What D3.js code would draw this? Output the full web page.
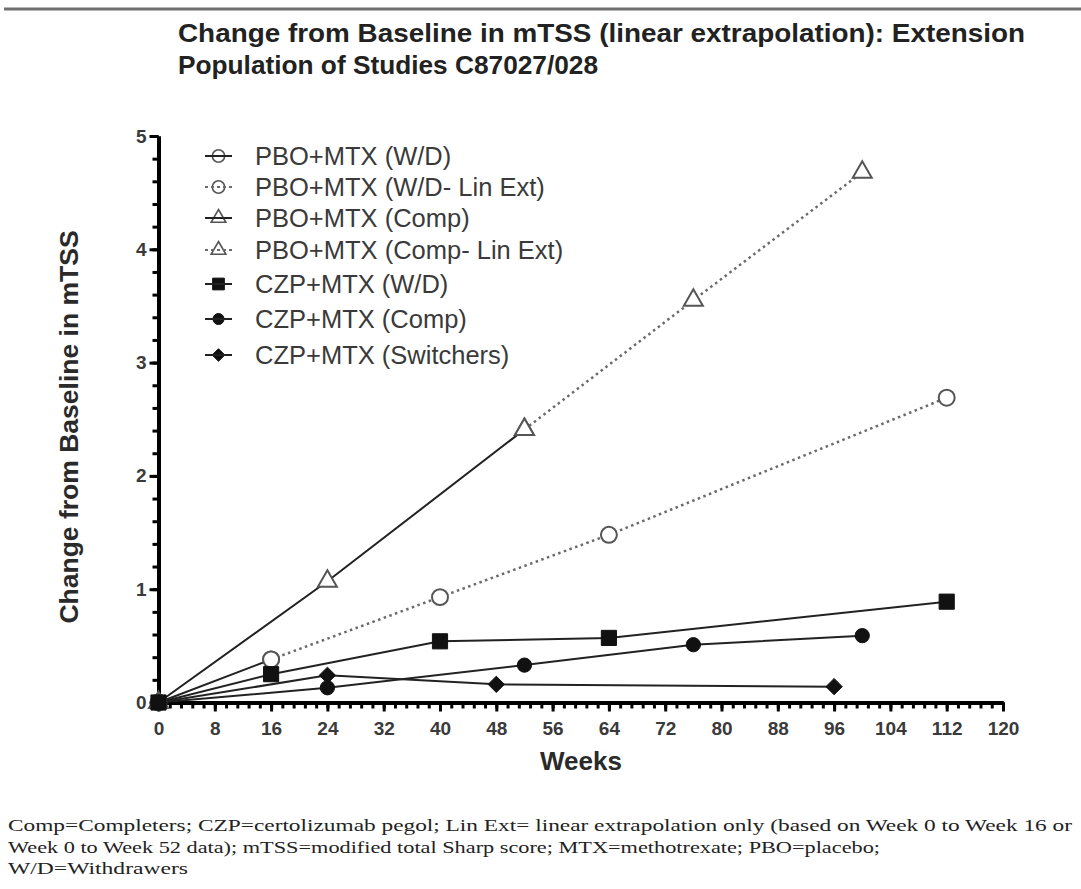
<!DOCTYPE html>
<html>
<head>
<meta charset="utf-8">
<script src="https://cdn.jsdelivr.net/npm/d3@7"></script>
<style>
    body { margin: 0; background: #fff; }
    svg { display: block; }
</style>
</head>
<body>
<div id="chart"></div>
<script>
// data
let weekTicks = [0, 8, 16, 24, 32, 40, 48, 56, 64, 72, 80, 88, 96, 104, 112, 120];
let valueTicks = [0, 1, 2, 3, 4, 5];

let pboWdWeeks = [0, 16];
let pboWdValues = [0, 0.38];
let pboWdExtWeeks = [16, 40, 64, 112];
let pboWdExtValues = [0.38, 0.93, 1.48, 2.69];
let pboCompWeeks = [0, 24, 52];
let pboCompValues = [0, 1.07, 2.41];
let pboCompExtWeeks = [52, 76, 100];
let pboCompExtValues = [2.41, 3.55, 4.68];
let czpWdWeeks = [0, 16, 40, 64, 112];
let czpWdValues = [0, 0.25, 0.54, 0.57, 0.89];
let czpCompWeeks = [0, 24, 52, 76, 100];
let czpCompValues = [0, 0.13, 0.33, 0.51, 0.59];
let czpSwWeeks = [0, 24, 48, 96];
let czpSwValues = [0, 0.24, 0.16, 0.14];

let seriesNames = ["PBO+MTX (W/D)", "PBO+MTX (W/D- Lin Ext)", "PBO+MTX (Comp)", "PBO+MTX (Comp- Lin Ext)",
    "CZP+MTX (W/D)", "CZP+MTX (Comp)", "CZP+MTX (Switchers)"];

let series = [
    {name: seriesNames[0], weeks: pboWdWeeks, values: pboWdValues, dotted: false, shape: d3.symbolCircle, size: 200, open: true},
    {name: seriesNames[1], weeks: pboWdExtWeeks, values: pboWdExtValues, dotted: true, shape: d3.symbolCircle, size: 200, open: true},
    {name: seriesNames[2], weeks: pboCompWeeks, values: pboCompValues, dotted: false, shape: d3.symbolTriangle, size: 156, open: true},
    {name: seriesNames[3], weeks: pboCompExtWeeks, values: pboCompExtValues, dotted: true, shape: d3.symbolTriangle, size: 156, open: true},
    {name: seriesNames[4], weeks: czpWdWeeks, values: czpWdValues, dotted: false, shape: d3.symbolSquare, size: 230, open: false},
    {name: seriesNames[5], weeks: czpCompWeeks, values: czpCompValues, dotted: false, shape: d3.symbolCircle, size: 160, open: false},
    {name: seriesNames[6], weeks: czpSwWeeks, values: czpSwValues, dotted: false, shape: d3.symbolDiamond2, size: 170, open: false}
];

let width = 1081, height = 889;

let svg = d3.select("#chart").append("svg")
    .attr("width", width)
    .attr("height", height);

// grey rule across the top
svg.append("line")
    .attr("x1", 4).attr("x2", width)
    .attr("y1", 9).attr("y2", 9)
    .attr("stroke", "#6f6f6f")
    .attr("stroke-width", 3);

// title (the scanned figure is a bit stretched sideways)
let titleLines = ["Change from Baseline in mTSS (linear extrapolation): Extension", "Population of Studies C87027/028"];
let titleWidths = [847, 420];
svg.append("g").selectAll("text")
    .data(titleLines)
    .enter().append("text")
    .attr("x", 178)
    .attr("y", function(d, i){ return 42 + i * 32; })
    .attr("textLength", function(d, i){ return titleWidths[i]; })
    .attr("lengthAdjust", "spacingAndGlyphs")
    .attr("font-family", "Liberation Sans, Arial, sans-serif")
    .attr("font-weight", "bold")
    .attr("font-size", 25)
    .attr("fill", "#222")
    .text(function(d){ return d; });

let xscale = d3.scaleLinear().domain([0, 120]).range([158.5, 1003]);
let yscale = d3.scaleLinear().domain([0, 5]).range([702.5, 136]);

// axes: minor ticks first, then major ticks with labels
let xMinor = svg.append("g")
    .attr("transform", "translate(0," + yscale(0) + ")")
    .call(d3.axisBottom(xscale).tickValues(d3.range(0, 121, 1.6)).tickSize(6).tickSizeOuter(0).tickFormat(""));
let yMinor = svg.append("g")
    .attr("transform", "translate(" + xscale(0) + ",0)")
    .call(d3.axisLeft(yscale).tickValues(d3.range(0, 5.01, 0.2)).tickSize(6).tickSizeOuter(0).tickFormat(""));

let xAxis = svg.append("g")
    .attr("transform", "translate(0," + yscale(0) + ")")
    .call(d3.axisBottom(xscale).tickValues(weekTicks).tickSize(9).tickPadding(10).tickSizeOuter(0).tickFormat(d3.format("d")));
let yAxis = svg.append("g")
    .attr("transform", "translate(" + xscale(0) + ",0)")
    .call(d3.axisLeft(yscale).tickValues(valueTicks).tickSize(9).tickPadding(3).tickSizeOuter(0).tickFormat(d3.format("d")));

[xMinor, yMinor, xAxis, yAxis].forEach(function(g){
    g.select(".domain").attr("stroke", "#000").attr("stroke-width", 4);
    g.selectAll(".tick line").attr("stroke", "#000").attr("stroke-width", 3);
    g.selectAll(".tick text")
        .attr("font-family", "Liberation Sans, Arial, sans-serif")
        .attr("font-weight", "bold")
        .attr("font-size", 19)
        .attr("fill", "#3a3a3a");
});

// axis titles
svg.append("text")
    .attr("x", 581)
    .attr("y", 770)
    .attr("text-anchor", "middle")
    .attr("font-family", "Liberation Sans, Arial, sans-serif")
    .attr("font-weight", "bold")
    .attr("font-size", 26)
    .attr("fill", "#2a2a2a")
    .text("Weeks");

svg.append("text")
    .attr("transform", "translate(78,427) rotate(-90)")
    .attr("text-anchor", "middle")
    .attr("font-family", "Liberation Sans, Arial, sans-serif")
    .attr("font-weight", "bold")
    .attr("font-size", 26.5)
    .attr("fill", "#2a2a2a")
    .text("Change from Baseline in mTSS");

// lines
let line = d3.line()
    .x(function(d){ return xscale(d[0]); })
    .y(function(d){ return yscale(d[1]); });

series.forEach(function(s){
    let pts = s.weeks.map(function(w, i){ return [w, s.values[i]]; });
    svg.append("path")
        .datum(pts)
        .attr("d", line)
        .attr("fill", "none")
        .attr("stroke", s.dotted ? "#6a6a6a" : "#222")
        .attr("stroke-width", s.dotted ? 2.5 : 2)
        .attr("stroke-dasharray", s.dotted ? "2.5,3.5" : null);
});

// markers
series.forEach(function(s){
    let sym = d3.symbol().type(s.shape).size(s.size);
    svg.append("g").selectAll("path")
        .data(s.weeks.map(function(w, i){ return [w, s.values[i]]; }))
        .enter().append("path")
        .attr("transform", function(d){ return "translate(" + xscale(d[0]) + "," + yscale(d[1]) + ")"; })
        .attr("d", sym)
        .attr("fill", s.open ? "#fff" : "#111")
        .attr("stroke", s.open ? "#555" : "#111")
        .attr("stroke-width", s.open ? 2 : 1);
});

// legend
let legendRows = [156, 187, 218, 250, 284, 319, 355];
let legend = svg.append("g");
series.forEach(function(s, i){
    let row = legend.append("g").attr("transform", "translate(0," + legendRows[i] + ")");
    row.append("path")
        .attr("transform", "translate(218.5,0)")
        .attr("d", d3.symbol().type(s.shape).size(s.size * 0.6))
        .attr("fill", s.open ? "none" : "#111")
        .attr("stroke", s.open ? "#555" : "#111")
        .attr("stroke-width", s.open ? 1.6 : 1);
    row.append("line")
        .attr("x1", 205).attr("x2", 232)
        .attr("y1", 0).attr("y2", 0)
        .attr("stroke", s.dotted ? "#6a6a6a" : "#222")
        .attr("stroke-width", 2)
        .attr("stroke-dasharray", s.dotted ? "3,3" : null);
    row.append("text")
        .attr("x", 255)
        .attr("y", 8.5)
        .attr("font-family", "Liberation Sans, Arial, sans-serif")
        .attr("font-size", 25.5)
        .attr("fill", "#3a3a3a")
        .text(s.name);
});

// footnote
let footLines = [
    "Comp=Completers; CZP=certolizumab pegol; Lin Ext= linear extrapolation only (based on Week 0 to Week 16 or",
    "Week 0 to Week 52 data); mTSS=modified total Sharp score; MTX=methotrexate; PBO=placebo;",
    "W/D=Withdrawers"
];
let footWidths = [1064, 872, 180];
svg.append("g").selectAll("text")
    .data(footLines)
    .enter().append("text")
    .attr("x", 8)
    .attr("y", function(d, i){ return 831 + i * 21.5; })
    .attr("textLength", function(d, i){ return footWidths[i]; })
    .attr("lengthAdjust", "spacingAndGlyphs")
    .attr("font-family", "Liberation Serif, Times New Roman, serif")
    .attr("font-size", 17)
    .attr("fill", "#222")
    .text(function(d){ return d; });
</script>
</body>
</html>
